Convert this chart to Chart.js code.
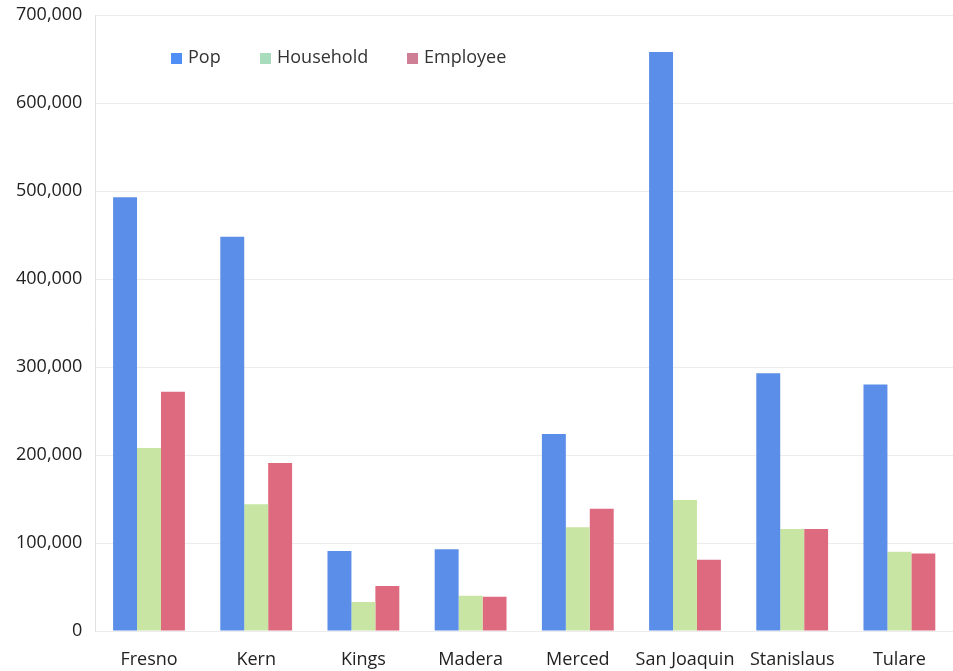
<!DOCTYPE html>
<html>
<head>
<meta charset="utf-8">
<script src="https://cdn.jsdelivr.net/npm/chart.js@4.4.1/dist/chart.umd.min.js"></script>
<style>
  html, body { margin: 0; padding: 0; background: #fff; }
  #wrap { width: 953px; height: 671px; position: relative; }
</style>
</head>
<body>
<div id="wrap"><canvas id="countyChart"></canvas></div>
<script>
const counties = ["Fresno", "Kern", "Kings", "Madera", "Merced", "San Joaquin", "Stanislaus", "Tulare"];
const pop = [493000, 448000, 91000, 93000, 224000, 658000, 293000, 280000];
const household = [208000, 144000, 33000, 40000, 118000, 149000, 116000, 90000];
const employee = [272000, 191000, 51000, 39000, 139000, 81000, 116000, 88000];
const yTicks = [0, 100000, 200000, 300000, 400000, 500000, 600000, 700000];

// legend drawn inside the plot area, near the top
const innerLegend = {
  id: "innerLegend",
  afterDraw(chart) {
    const ctx = chart.ctx;
    const area = chart.chartArea;
    const xs = [171, 260, 407];
    const y = area.top + 43;
    ctx.save();
    ctx.font = "18px 'Open Sans'";
    ctx.textBaseline = "middle";
    chart.data.datasets.forEach((ds, i) => {
      ctx.fillStyle = ds.legendColor;
      ctx.fillRect(xs[i], y - 5, 11, 11);
      ctx.fillStyle = "#333";
      ctx.fillText(ds.label, xs[i] + 17, y);
    });
    ctx.restore();
  },
};

const ctx = document.getElementById("countyChart").getContext("2d");
new Chart(ctx, {
  type: "bar",
  data: {
    labels: counties,
    datasets: [
      { label: "Pop", data: pop, backgroundColor: "#5b8ee8", legendColor: "#4f8ef5" },
      { label: "Household", data: household, backgroundColor: "#c9e5a3", legendColor: "#a9dcbc" },
      { label: "Employee", data: employee, backgroundColor: "#de6a80", legendColor: "#cf7f95" },
    ],
  },
  options: {
    responsive: true,
    maintainAspectRatio: false,
    animation: false,
    layout: { padding: { top: 0, left: 3, right: 0, bottom: 0 } },
    plugins: {
      legend: { display: false },
      tooltip: { enabled: false },
    },
    categoryPercentage: 0.67,
    barPercentage: 1,
    scales: {
      x: {
        grid: { display: false, drawTicks: false },
        border: { display: true, color: "#ececec" },
        ticks: {
          padding: 18,
          color: "#222",
          font: { family: "Open Sans", size: 18 },
        },
        // keep the label band tight under the bars
        afterFit: (scale) => {
          scale.height = 40;
        },
      },
      y: {
        min: 0,
        max: 700000,
        afterBuildTicks: (axis) => {
          axis.ticks = yTicks.map((v) => ({ value: v }));
        },
        afterFit: (scale) => {
          scale.paddingTop = 15;
          scale.paddingBottom = 11;
        },
        grid: { color: "#ececec", drawTicks: false },
        border: { display: true, color: "#e2e2e2" },
        ticks: {
          padding: 13,
          color: "#222",
          font: { family: "Open Sans", size: 18 },
          callback: (v) => v.toLocaleString("en-US"),
        },
      },
    },
  },
  plugins: [innerLegend],
});
</script>
</body>
</html>
